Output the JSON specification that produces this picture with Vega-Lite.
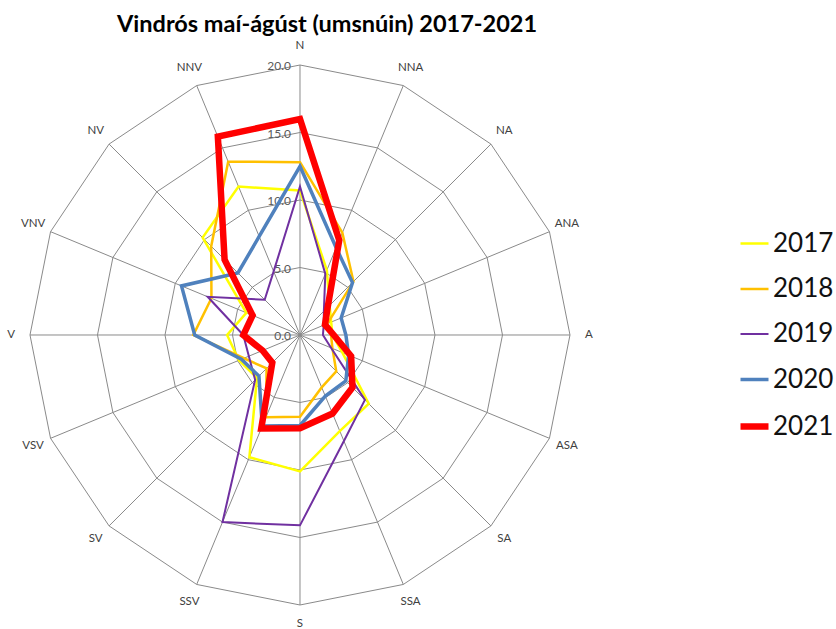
{
  "$schema": "https://vega.github.io/schema/vega-lite/v6.json",
  "width": 836,
  "height": 589,
  "autosize": {"type": "none"},
  "padding": {"left": 0, "top": 40, "right": 0, "bottom": 0},
  "background": "white",
  "title": {
    "text": "Vindrós maí-ágúst (umsnúin) 2017-2021",
    "anchor": "start",
    "dx": 117,
    "offset": -15,
    "baseline": "alphabetic",
    "font": "Lato",
    "fontSize": 23.5,
    "fontWeight": "bold",
    "color": "#000000"
  },
  "config": {
    "view": {"stroke": null},
    "legend": {
      "orient": "none",
      "legendX": 737,
      "legendY": 188,
      "symbolType": "stroke",
      "symbolSize": 784,
      "labelFont": "Lato",
      "labelFontSize": 26,
      "labelColor": "#111111",
      "labelOffset": 1,
      "rowPadding": 16.5,
      "padding": 0
    }
  },
  "datasets": {
    "wind": [
      {"dir": "N", "deg": 0, "y2017": 10.7, "y2018": 12.8, "y2019": 11.0, "y2020": 12.5, "y2021": 16.0},
      {"dir": "NNA", "deg": 22.5, "y2017": 5.2, "y2018": 8.2, "y2019": 4.9, "y2020": 7.0, "y2021": 7.6},
      {"dir": "NA", "deg": 45, "y2017": 3.1, "y2018": 5.6, "y2019": 2.5, "y2020": 5.5, "y2021": 2.9},
      {"dir": "ANA", "deg": 67.5, "y2017": 2.5, "y2018": 2.2, "y2019": 1.9, "y2020": 3.3, "y2021": 2.0},
      {"dir": "A", "deg": 90, "y2017": 2.4, "y2018": 2.3, "y2019": 1.7, "y2020": 3.4, "y2021": 2.5},
      {"dir": "ASA", "deg": 112.5, "y2017": 3.4, "y2018": 2.6, "y2019": 2.5, "y2020": 3.9, "y2021": 4.1},
      {"dir": "SA", "deg": 135, "y2017": 7.2, "y2018": 3.8, "y2019": 6.8, "y2020": 4.8, "y2021": 5.5},
      {"dir": "SSA", "deg": 157.5, "y2017": 7.7, "y2018": 4.2, "y2019": 8.5, "y2020": 4.9, "y2021": 6.3},
      {"dir": "S", "deg": 180, "y2017": 10.1, "y2018": 6.05, "y2019": 14.1, "y2020": 6.7, "y2021": 6.9},
      {"dir": "SSV", "deg": 202.5, "y2017": 9.8, "y2018": 6.6, "y2019": 15.0, "y2020": 7.3, "y2021": 7.5},
      {"dir": "SV", "deg": 225, "y2017": 4.5, "y2018": 3.5, "y2019": 4.7, "y2020": 4.3, "y2021": 2.9},
      {"dir": "VSV", "deg": 247.5, "y2017": 4.9, "y2018": 4.5, "y2019": 4.1, "y2020": 4.7, "y2021": 3.0},
      {"dir": "V", "deg": 270, "y2017": 5.4, "y2018": 7.9, "y2019": 4.2, "y2020": 7.8, "y2021": 4.2},
      {"dir": "VNV", "deg": 292.5, "y2017": 4.3, "y2018": 7.1, "y2019": 7.4, "y2020": 9.5, "y2021": 3.8},
      {"dir": "NV", "deg": 315, "y2017": 10.2, "y2018": 9.3, "y2019": 3.7, "y2020": 6.5, "y2021": 7.9},
      {"dir": "NNV", "deg": 337.5, "y2017": 11.9, "y2018": 13.9, "y2019": 5.1, "y2020": 7.9, "y2021": 15.9}
    ],
    "ticks": [{"v": 0}, {"v": 5}, {"v": 10}, {"v": 15}, {"v": 20}]
  },
  "layer": [
    {
      "data": {"name": "wind"},
      "transform": [
        {"calculate": "[5, 10, 15, 20]", "as": "ring"},
        {"flatten": ["ring"]},
        {"calculate": "datum.ring * sin(datum.deg * PI / 180)", "as": "gx"},
        {"calculate": "datum.ring * cos(datum.deg * PI / 180)", "as": "gy"}
      ],
      "mark": {"type": "line", "interpolate": "linear-closed", "color": "#8a8a8a", "strokeWidth": 1},
      "encoding": {
        "x": {"field": "gx", "type": "quantitative", "scale": {"domain": [-22.222, 39.704], "nice": false, "zero": false}, "axis": null},
        "y": {"field": "gy", "type": "quantitative", "scale": {"domain": [-21.778, 21.852], "nice": false, "zero": false}, "axis": null},
        "detail": {"field": "ring", "type": "nominal"},
        "order": {"field": "deg", "type": "quantitative"}
      }
    },
    {
      "data": {"name": "wind"},
      "transform": [
        {"calculate": "20 * sin(datum.deg * PI / 180)", "as": "sx"},
        {"calculate": "20 * cos(datum.deg * PI / 180)", "as": "sy"}
      ],
      "mark": {"type": "rule", "color": "#8a8a8a", "strokeWidth": 1},
      "encoding": {
        "x": {"field": "sx", "type": "quantitative"},
        "y": {"field": "sy", "type": "quantitative"},
        "x2": {"datum": 0},
        "y2": {"datum": 0}
      }
    },
    {
      "data": {"name": "ticks"},
      "mark": {"type": "text", "align": "right", "baseline": "middle", "dx": -9, "dy": 1, "font": "Lato", "fontSize": 12, "color": "#595959"},
      "encoding": {
        "x": {"datum": 0, "type": "quantitative"},
        "y": {"field": "v", "type": "quantitative"},
        "text": {"field": "v", "type": "quantitative", "format": ".1f"}
      }
    },
    {
      "data": {"name": "wind"},
      "transform": [
        {"calculate": "21.4 * sin(datum.deg * PI / 180)", "as": "lx"},
        {"calculate": "21.4 * cos(datum.deg * PI / 180)", "as": "ly"}
      ],
      "mark": {"type": "text", "align": "center", "baseline": "middle", "font": "Lato", "fontSize": 11.5, "color": "#404040"},
      "encoding": {
        "x": {"field": "lx", "type": "quantitative"},
        "y": {"field": "ly", "type": "quantitative"},
        "text": {"field": "dir", "type": "nominal"}
      }
    },
    {
      "data": {"name": "wind"},
      "transform": [
        {"fold": ["y2017", "y2018", "y2019", "y2020", "y2021"], "as": ["key", "value"]},
        {"calculate": "substring(datum.key, 1)", "as": "year"},
        {"calculate": "datum.value * sin(datum.deg * PI / 180)", "as": "px"},
        {"calculate": "datum.value * cos(datum.deg * PI / 180)", "as": "py"}
      ],
      "mark": {"type": "line", "interpolate": "linear-closed", "strokeJoin": "miter"},
      "encoding": {
        "x": {"field": "px", "type": "quantitative"},
        "y": {"field": "py", "type": "quantitative"},
        "color": {
          "field": "year",
          "type": "nominal",
          "title": null,
          "scale": {"domain": ["2017", "2018", "2019", "2020", "2021"], "range": ["#FFFF00", "#FFC000", "#7030A0", "#4F81BD", "#FF0000"]}
        },
        "strokeWidth": {
          "field": "year",
          "type": "nominal",
          "title": null,
          "scale": {"type": "ordinal", "domain": ["2017", "2018", "2019", "2020", "2021"], "range": [2.5, 2.5, 2, 3.5, 6.5]}
        },
        "order": {"field": "deg", "type": "quantitative"}
      }
    }
  ]
}
